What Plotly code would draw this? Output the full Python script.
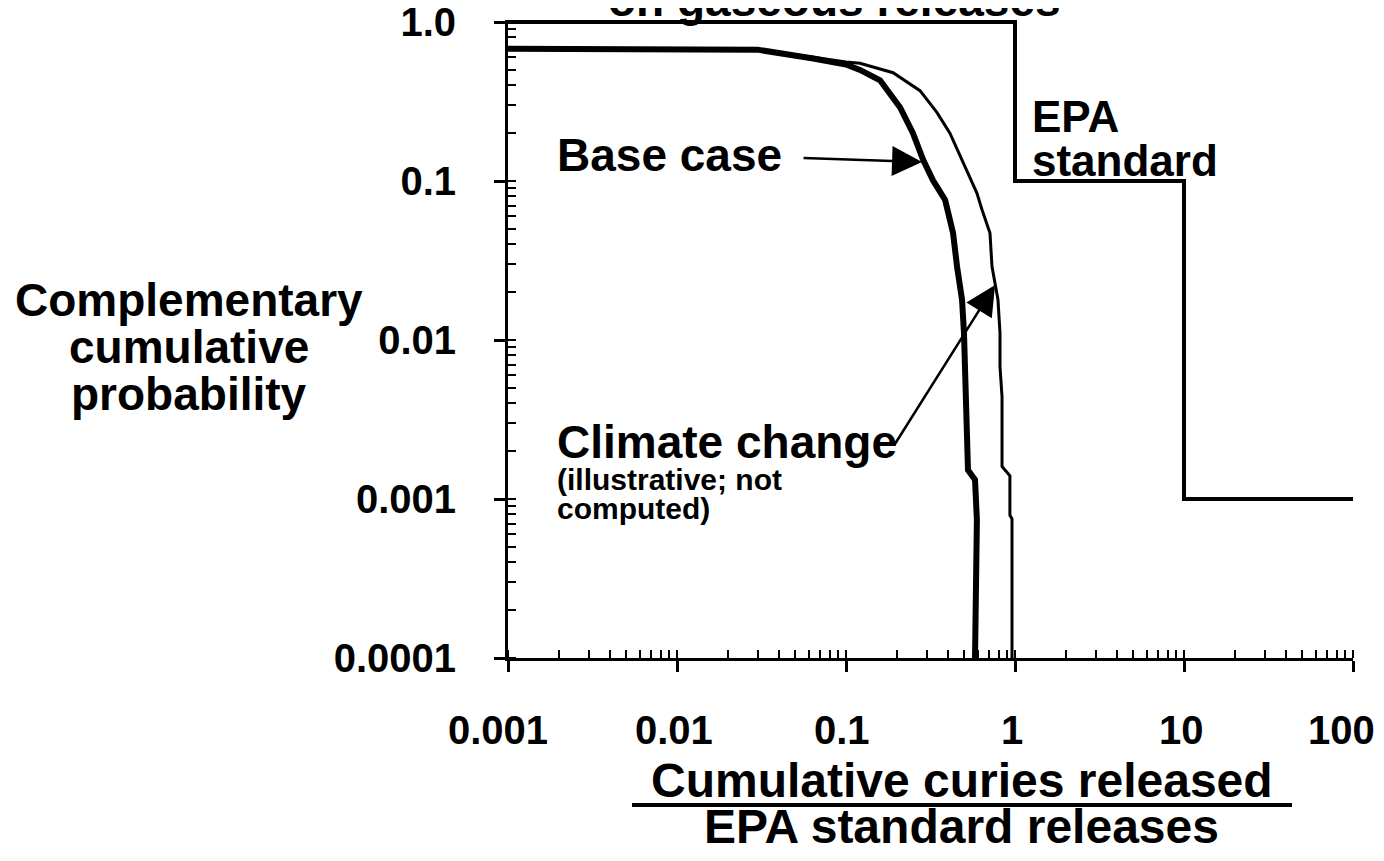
import math
import plotly.graph_objects as go

# ---- data ----
base_x = [0.001, 0.03, 0.064, 0.10, 0.121, 0.159, 0.209, 0.249, 0.286, 0.327, 0.386,
          0.43, 0.454, 0.486, 0.499, 0.506, 0.52, 0.527, 0.527, 0.58, 0.595, 0.58]
base_y = [0.68, 0.67, 0.59, 0.54, 0.50, 0.43, 0.29, 0.20, 0.136, 0.101, 0.076,
          0.047, 0.029, 0.0179, 0.0111, 0.0068, 0.0042, 0.0026, 0.00152, 0.00132, 0.00074, 0.0001]

climate_x = [0.001, 0.03, 0.064, 0.10, 0.121, 0.19, 0.274, 0.345, 0.412, 0.492, 0.595,
             0.638, 0.711, 0.731, 0.793, 0.815, 0.815, 0.838, 0.838, 0.933, 0.933, 0.96, 0.96]
climate_y = [0.68, 0.67, 0.60, 0.56, 0.55, 0.48, 0.37, 0.27, 0.20, 0.13, 0.084,
             0.066, 0.047, 0.029, 0.0179, 0.0111, 0.0068, 0.0044, 0.0016, 0.0014, 0.00079, 0.00075, 0.0001]

epa_x = [0.001, 1, 1, 10, 10, 100]
epa_y = [1.0, 1.0, 0.1, 0.1, 0.001, 0.001]

x_tickvals = [0.001, 0.01, 0.1, 1, 10, 100]
x_ticktext = ["0.001", "0.01", "0.1", "1", "10", "100"]
y_tickvals = [1.0, 0.1, 0.01, 0.001, 0.0001]
y_ticktext = ["1.0", "0.1", "0.01", "0.001", "0.0001"]

FONT = "Liberation Sans, Arial, Helvetica, sans-serif"

# page offset (browser body margin)
OFF = 8

fig = go.Figure()
fig.add_trace(go.Scatter(x=epa_x, y=epa_y, mode="lines",
                         line=dict(color="black", width=4), hoverinfo="skip"))
fig.add_trace(go.Scatter(x=climate_x, y=climate_y, mode="lines",
                         line=dict(color="black", width=3), hoverinfo="skip"))
fig.add_trace(go.Scatter(x=base_x, y=base_y, mode="lines",
                         line=dict(color="black", width=6), hoverinfo="skip"))

tick_font = dict(family=FONT, size=40, color="black", weight="bold")
ann_font = dict(family=FONT, size=46, color="black", weight="bold")

common = dict(type="log", showgrid=False, zeroline=False, automargin=False,
              showline=True, linecolor="black", linewidth=3, ticks="outside",
              ticklen=11, tickwidth=3, tickcolor="black", tickfont=tick_font,
              ticklabeloverflow="allow",
              minor=dict(ticks="inside", ticklen=8, tickwidth=2,
                         tickcolor="black", dtick="D1", showgrid=False))
# x tick labels are drawn as annotations below (edge labels sit slightly inward)
fig.update_xaxes(range=[-3, 2], tickvals=x_tickvals, ticktext=x_ticktext,
                 showticklabels=False, **common)
fig.update_yaxes(range=[-4, 0.0126], tickvals=y_tickvals, ticktext=y_ticktext,
                 ticklabelstandoff=30, **common)

anns = []
def txt(text, x, y, size=46, xanchor="center", yanchor="middle"):
    f = dict(ann_font)
    f["size"] = size
    anns.append(dict(text=text, x=x, y=y, xref="paper", yref="paper",
                     showarrow=False, xanchor=xanchor, yanchor=yanchor, font=f))

def px2paper(px, py):
    return (px - 508) / 845.0, (658 - py) / 638.0

# x tick labels
_, ylab = px2paper(0, 730)
x_shifts = [-10, -3, -4, -3, -3, -12]
for v, t, sh in zip(x_tickvals, x_ticktext, x_shifts):
    anns.append(dict(text=t, x=math.log10(v), xref="x", y=ylab, yref="paper",
                     showarrow=False, xanchor="center", yanchor="middle",
                     xshift=sh, font=tick_font))

# title (cut off at top)
x, y = px2paper(834, 0)
txt("on gaseous releases", x, y, size=46)
# y-axis title
for s, py in [("Complementary", 300), ("cumulative", 347), ("probability", 394)]:
    x, y = px2paper(189, py)
    txt(s, x, y, size=46)
# x-axis title
x, y = px2paper(962, 780)
txt("Cumulative curies released", x, y, size=48)
x, y = px2paper(961, 826)
txt("EPA standard releases", x, y, size=48)
# labels
x, y = px2paper(555, 155)
txt("Base case", x, y, size=46, xanchor="left")
x, y = px2paper(1030, 116)
txt("EPA", x, y, size=44, xanchor="left")
x, y = px2paper(1030, 160)
txt("standard", x, y, size=44, xanchor="left")
x, y = px2paper(555, 442)
txt("Climate change", x, y, size=46, xanchor="left")
x, y = px2paper(555, 479)
txt("(illustrative; not", x, y, size=30, xanchor="left")
x, y = px2paper(555, 509)
txt("computed)", x, y, size=30, xanchor="left")

# arrows (positions in log units of the axes)
anns.append(dict(x=-0.55, y=-0.88, xref="x", yref="y", text="", showarrow=True,
                 ax=-120, ay=-4, arrowhead=2, arrowsize=2.4, arrowwidth=2.5,
                 arrowcolor="black"))
anns.append(dict(x=-0.118, y=-1.654, xref="x", yref="y", text="", showarrow=True,
                 ax=-102, ay=162, arrowhead=2, arrowsize=2.4, arrowwidth=2.5,
                 arrowcolor="black"))

x0, yl = px2paper(632, 805)
x1, _ = px2paper(1292, 805)
fig.update_layout(
    annotations=anns,
    shapes=[dict(type="line", xref="paper", yref="paper", x0=x0, x1=x1, y0=yl, y1=yl,
                 line=dict(color="black", width=4))],
    width=1384 - OFF, height=861 - OFF, autosize=False,
    margin=dict(l=508 - OFF, r=31, t=20 - OFF, b=203, pad=0),
    paper_bgcolor="white", plot_bgcolor="white",
    showlegend=False,
    font=dict(family=FONT, color="black"),
)

fig.write_html("out.html")
